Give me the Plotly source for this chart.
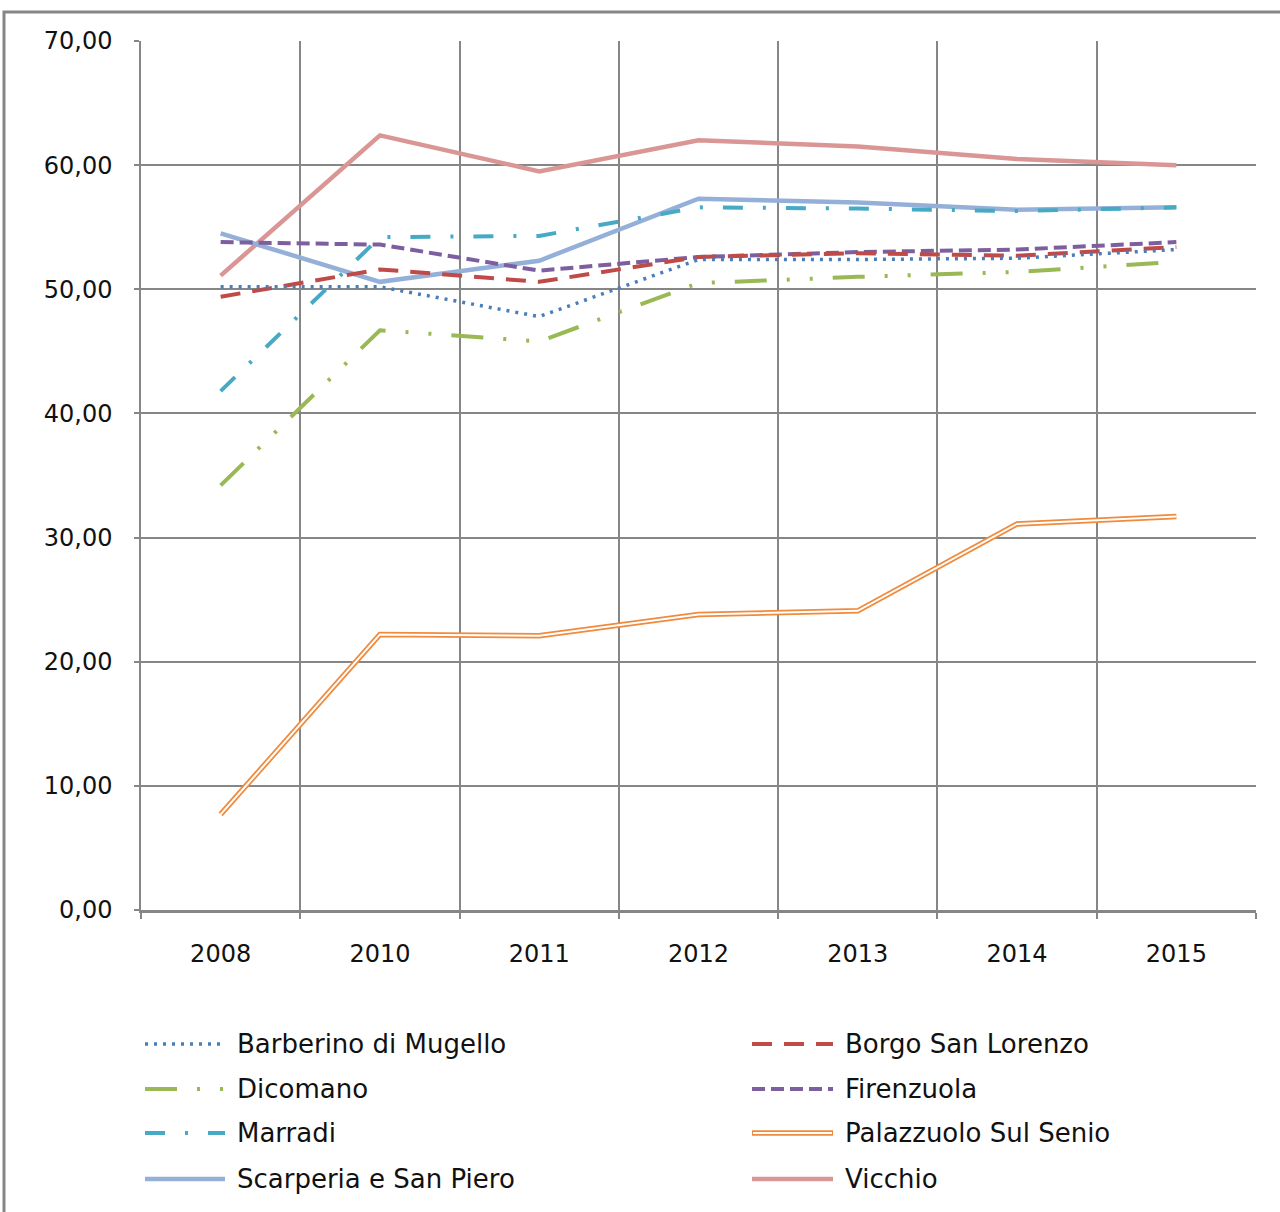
import plotly.graph_objects as go

years = ["2008", "2010", "2011", "2012", "2013", "2014", "2015"]

barberino = [50.2, 50.2, 47.8, 52.4, 52.4, 52.5, 53.2]
borgo = [49.4, 51.6, 50.6, 52.6, 52.9, 52.7, 53.4]
dicomano = [34.2, 46.7, 45.8, 50.5, 51.0, 51.4, 52.2]
firenzuola = [53.8, 53.6, 51.5, 52.6, 53.0, 53.2, 53.8]
marradi = [41.8, 54.2, 54.3, 56.6, 56.5, 56.3, 56.6]
palazzuolo = [7.7, 22.2, 22.1, 23.8, 24.1, 31.1, 31.7]
scarperia = [54.5, 50.6, 52.3, 57.3, 57.0, 56.4, 56.6]
vicchio = [51.1, 62.4, 59.5, 62.0, 61.5, 60.5, 60.0]

names = ["Barberino di Mugello", "Borgo San Lorenzo", "Dicomano", "Firenzuola",
         "Marradi", "Palazzuolo Sul Senio", "Scarperia e San Piero", "Vicchio"]
series = [barberino, borgo, dicomano, firenzuola, marradi, palazzuolo, scarperia, vicchio]

styles = [
    dict(color="#4a7ebb", width=3.5, dash="3px,6px"),
    dict(color="#be4b48", width=4, dash="20px,12px"),
    dict(color="#98b954", width=4, dash="32px,20px,3px,20px,3px,20px"),
    dict(color="#7d5fa0", width=4, dash="13px,6px"),
    dict(color="#46aac5", width=4, dash="20px,20px,3px,20px"),
    dict(color="#f08a3c", width=5.5, dash="solid"),
    dict(color="#95b0d8", width=4.5, dash="solid"),
    dict(color="#d99694", width=4.5, dash="solid"),
]

FONT = "DejaVu Sans"
fig = go.Figure()
draw_order = [5, 7, 6, 4, 3, 1, 0, 2]
for i in draw_order:
    fig.add_trace(go.Scatter(x=years, y=series[i], mode="lines", name=names[i],
                             line=styles[i], showlegend=False))
    if i == 5:
        fig.add_trace(go.Scatter(x=years, y=series[i], mode="lines", name=names[i],
                                 line=dict(color="white", width=2), showlegend=False))

W, H = 1280, 1212
L, R, T, B = 141, 1256, 41, 910  # plot area in pixels
def px(xp):
    return (xp - L) / (R - L)
def py(yp):
    return (B - yp) / (B - T)

shapes = []
annotations = []
# outer chart border
shapes.append(dict(type="rect", xref="paper", yref="paper", x0=px(4), x1=px(1300),
                   y0=py(1260), y1=py(12), line=dict(color="#868686", width=3),
                   layer="below"))

rows = [1044, 1089, 1133, 1179]
cols = [(145, 225, 235), (752, 833, 843)]
for k, nm in enumerate(names):
    r = rows[k // 2]
    c = cols[k % 2]
    st = styles[k]
    shapes.append(dict(type="line", xref="paper", yref="paper", x0=px(c[0]), x1=px(c[1]),
                       y0=py(r), y1=py(r), line=dict(color=st["color"], width=st["width"],
                                                     dash=st["dash"])))
    if k == 5:
        shapes.append(dict(type="line", xref="paper", yref="paper", x0=px(c[0] + 1), x1=px(c[1] - 1),
                           y0=py(r), y1=py(r), line=dict(color="white", width=2)))
    annotations.append(dict(xref="paper", yref="paper", x=px(c[2]), y=py(r), text=nm,
                            showarrow=False, xanchor="left", yanchor="middle",
                            font=dict(family=FONT, size=26, color="#111111")))

fig.update_layout(
    width=W, height=H,
    margin=dict(l=L, r=W - R, t=T, b=H - B),
    paper_bgcolor="white", plot_bgcolor="white",
    separators=",.",
    showlegend=False,
    shapes=shapes,
    annotations=annotations,
    font=dict(family=FONT, size=24, color="#111111"),
)
fig.update_xaxes(type="category", range=[-0.5, 6.5], tickson="boundaries",
                 showgrid=True, gridcolor="#868686", gridwidth=1.5,
                 ticks="outside", ticklen=6, tickcolor="#868686", tickwidth=1.5,
                 showline=True, linecolor="#868686", linewidth=2.5,
                 ticklabelstandoff=20, tickfont=dict(family=FONT, size=24))
fig.update_yaxes(range=[0, 70], dtick=10, tickformat=".2f",
                 showgrid=True, gridcolor="#868686", gridwidth=1.5,
                 ticks="outside", ticklen=5, tickcolor="#868686", tickwidth=1.5,
                 showline=True, linecolor="#868686", linewidth=1.5,
                 zeroline=False, ticklabelstandoff=17,
                 tickfont=dict(family=FONT, size=24))

fig.write_html("out.html", config={"displayModeBar": False},
               post_script="document.body.style.margin='0';document.body.style.overflow='hidden';")
